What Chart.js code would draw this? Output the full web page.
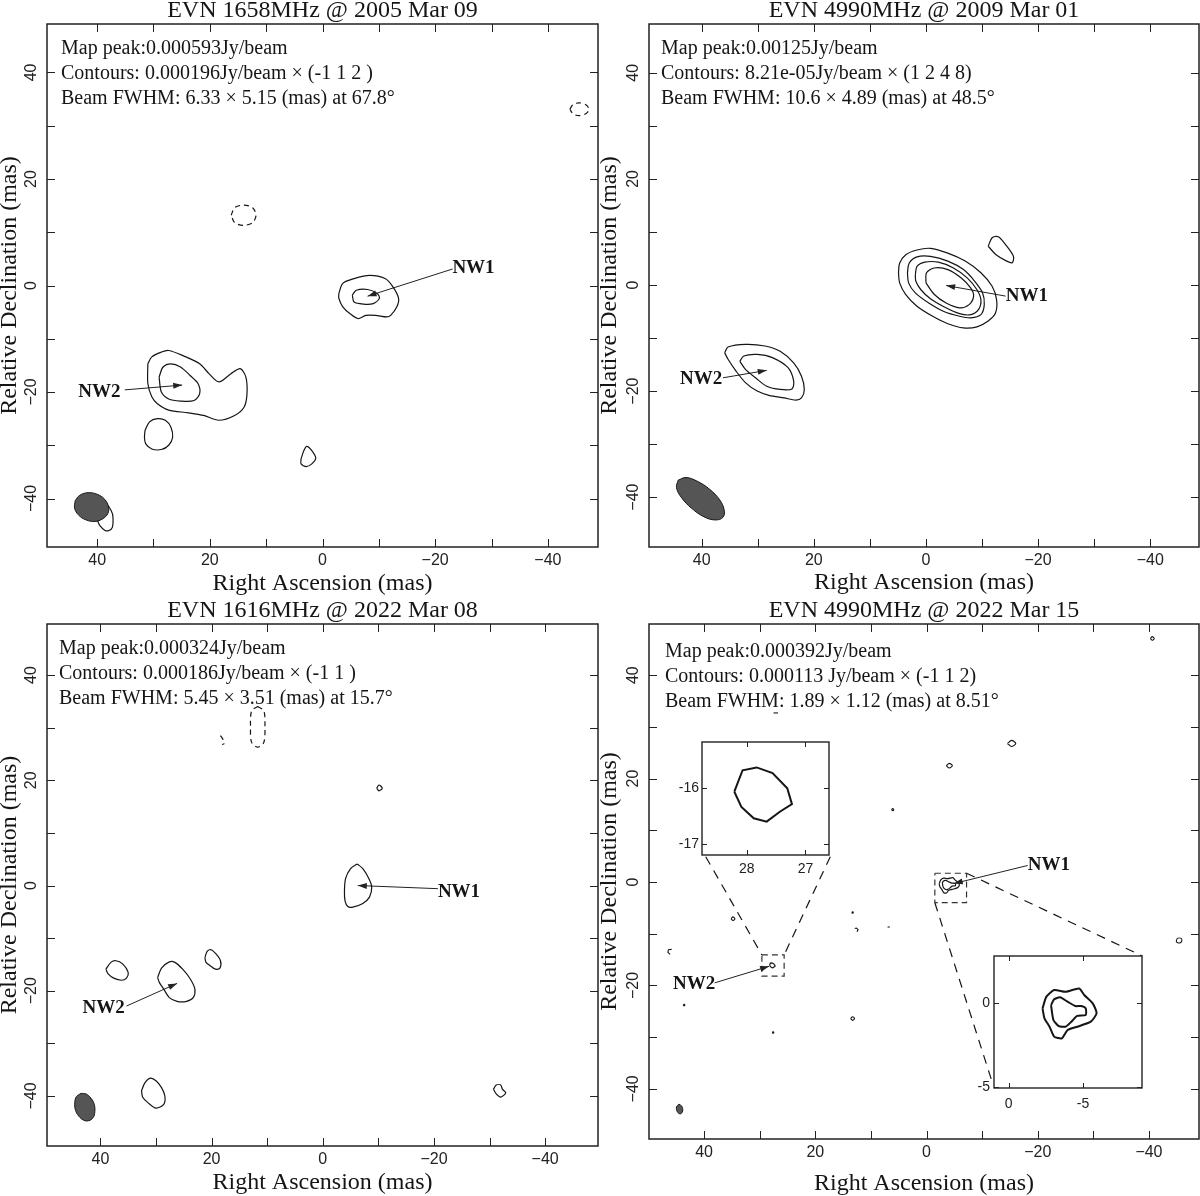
<!DOCTYPE html>
<html>
<head>
<meta charset="utf-8">
<script src="https://cdn.jsdelivr.net/npm/chart.js@4.4.1/dist/chart.umd.min.js"></script>
<style>
  html, body { margin: 0; padding: 0; background: #fff; }
  #wrap { position: relative; width: 1200px; height: 1196px; overflow: hidden; }
  canvas { position: absolute; }
</style>
</head>
<body>
<div id="wrap">
  <canvas id="p1" width="600" height="598" style="left:0;top:0"></canvas>
  <canvas id="p2" width="600" height="598" style="left:600px;top:0"></canvas>
  <canvas id="p3" width="600" height="598" style="left:0;top:598px"></canvas>
  <canvas id="p4" width="600" height="598" style="left:600px;top:598px"></canvas>
  <canvas id="in1" width="170" height="145" style="left:670px;top:735px"></canvas>
  <canvas id="in2" width="190" height="170" style="left:960px;top:948px"></canvas>
</div>
<script>
// ---- axis ticks / labels (mas) ----
const mainTicks = [-40, -30, -20, -10, 0, 10, 20, 30, 40];
const mainLabels = [-40, -20, 0, 20, 40];
const in1XTicks = [27, 28];
const in1YTicks = [-17, -16];
const in2Ticks = [-5, 0];

const p1XRange = [-48.9, 48.9], p1YRange = [-49.1, 49.1];
const p2XRange = [-48.7, 49.4], p2YRange = [-49.4, 49.2];
const p3XRange = [-49.5, 49.6], p3YRange = [-49.5, 49.7];
const p4XRange = [-49.0, 49.9], p4YRange = [-49.7, 49.9];
const in1XRange = [26.6, 28.76], in1YRange = [-17.19, -15.19];
const in2XRange = [-8.96, 0.98], in2YRange = [-5.08, 2.78];

const titles = ['EVN 1658MHz @ 2005 Mar 09', 'EVN 4990MHz @ 2009 Mar 01',
                'EVN 1616MHz @ 2022 Mar 08', 'EVN 4990MHz @ 2022 Mar 15'];
const notes1 = ['Map peak:0.000593Jy/beam', 'Contours: 0.000196Jy/beam \u00d7 (-1 1 2 )', 'Beam FWHM: 6.33 \u00d7 5.15 (mas) at 67.8\u00b0'];
const notes2 = ['Map peak:0.00125Jy/beam', 'Contours: 8.21e-05Jy/beam \u00d7 (1 2 4 8)', 'Beam FWHM: 10.6 \u00d7 4.89 (mas) at 48.5\u00b0'];
const notes3 = ['Map peak:0.000324Jy/beam', 'Contours: 0.000186Jy/beam \u00d7 (-1 1 )', 'Beam FWHM: 5.45 \u00d7 3.51 (mas) at 15.7\u00b0'];
const notes4 = ['Map peak:0.000392Jy/beam', 'Contours: 0.000113 Jy/beam \u00d7 (-1 1 2)', 'Beam FWHM: 1.89 \u00d7 1.12 (mas) at 8.51\u00b0'];

// ---- panel 1: 1658 MHz 2005 ----
const p1Nw1Outer = [[-2.9,-1.5],[-3.6,0.4],[-5.6,1.3],[-8.4,1.9],[-11.1,1.3],[-12.5,-0.25],[-13.5,-2.4],[-13.2,-4.0],[-12.1,-5.6],[-11.4,-5.9],[-9.4,-5.6],[-7.7,-5.6],[-6.3,-6.2],[-4.9,-5.3],[-3.6,-4.0],[-2.9,-2.4]];
const p1Nw1Inner = [[-5.3,-1.8],[-6.0,-0.9],[-8.0,-0.75],[-9.7,-1.5],[-10.1,-2.4],[-9.0,-3.4],[-7.3,-3.5],[-5.6,-3.1]];
const p1Nw2Outer = [[31.0,-14.7],[30.3,-13.4],[28.6,-12.5],[27.3,-12.2],[24.5,-13.3],[21.8,-14.7],[20.1,-16.6],[18.4,-18.1],[16.3,-16.6],[14.6,-15.6],[13.6,-17.2],[13.4,-20.3],[13.9,-22.8],[15.6,-24.4],[18.4,-25.3],[21.1,-24.4],[23.8,-23.9],[27.3,-23.4],[29.3,-22.2],[30.3,-20.9],[31.0,-18.4]];
const p1Nw2Inner = [[29.0,-17.2],[28.3,-15.3],[26.9,-14.7],[25.2,-15.3],[23.5,-16.9],[22.1,-18.4],[21.8,-20.3],[22.8,-21.6],[25.2,-21.7],[27.3,-21.3],[28.6,-20.0]];
const p1BlobA = [[31.5,-27.2],[30.7,-25.6],[29.3,-25.0],[27.9,-25.3],[26.9,-26.6],[26.6,-28.5],[27.3,-30.0],[28.6,-30.8],[30.3,-30.7],[31.4,-29.7],[31.6,-28.5]];
const p1BlobB = [[3.8,-32.5],[3.3,-31.0],[2.8,-30.2],[1.9,-31.0],[1.2,-32.4],[1.9,-33.5],[2.9,-34.0],[3.8,-33.5]];
const p1BlobC = [[40.0,-44.0],[40.6,-42.0],[39.3,-40.6],[38.4,-40.9],[37.5,-42.3],[37.2,-43.4],[37.3,-45.4],[37.9,-46.0],[38.6,-46.0],[39.5,-45.1]];
const p1Neg1 = [[16.2,13.2],[15.6,14.6],[14.0,15.1],[12.4,14.6],[11.8,13.2],[12.4,11.8],[14.0,11.3],[15.6,11.8]];
const p1Neg2 = [[-43.9,33.1],[-44.5,34.0],[-45.6,34.3],[-46.8,33.9],[-47.3,33.1],[-46.8,32.3],[-45.6,31.9],[-44.5,32.2]];
const p1Beam = [[43.9,-40.4],[43.1,-39.4],[41.6,-38.9],[40.0,-39.2],[38.7,-40.1],[38.0,-41.5],[38.1,-42.8],[39.0,-43.8],[40.4,-44.3],[42.0,-44.0],[43.3,-43.1],[44.0,-41.8]];
const p1ArrowNw1 = [[-23.1,3.1],[-8.0,-2.0]];
const p1ArrowNw2 = [[35.1,-19.6],[24.9,-18.7]];

// ---- panel 2: 4990 MHz 2009 ----
const p2Nw1C1 = [[4.9,2.3],[4.7,4.1],[3.6,5.7],[1.6,6.6],[-0.8,6.9],[-3.9,6.0],[-7.0,4.5],[-9.8,2.3],[-11.8,-0.25],[-12.6,-2.8],[-12.4,-5.3],[-11.1,-6.8],[-9.1,-7.9],[-6.7,-8.1],[-3.9,-7.3],[-1.2,-5.9],[1.6,-4.0],[3.6,-1.8],[4.7,0.4]];
const p2Nw1C2 = [[3.3,2.3],[3.0,4.1],[1.6,5.3],[-0.8,5.4],[-3.9,4.5],[-6.7,2.9],[-8.7,0.7],[-10.1,-1.5],[-10.4,-3.7],[-9.8,-5.6],[-8.0,-6.2],[-6.0,-5.9],[-3.2,-5.0],[-0.5,-3.4],[1.9,-1.5],[3.1,0.4]];
const p2Nw1C3 = [[1.9,1.9],[1.6,3.5],[0.2,4.3],[-2.2,4.3],[-4.9,3.2],[-7.4,1.3],[-9.1,-0.9],[-9.8,-2.8],[-9.4,-4.6],[-8.0,-5.6],[-6.0,-5.4],[-3.2,-4.1],[-0.8,-2.6],[0.9,-0.9],[1.8,0.7]];
const p2Nw1C4 = [[0.0,0.4],[-0.1,2.3],[-1.5,3.2],[-3.9,2.9],[-6.3,1.3],[-8.0,-0.6],[-8.5,-2.1],[-7.7,-3.7],[-6.0,-4.3],[-3.6,-3.4],[-1.5,-1.8]];
const p2Knot = [[-11.1,7.3],[-11.8,8.9],[-12.9,9.1],[-14.2,7.6],[-15.6,5.4],[-15.4,4.2],[-14.4,4.5],[-12.5,5.7]];
const p2Nw2Outer = [[35.9,-12.8],[35.3,-11.7],[32.2,-11.2],[28.7,-11.5],[26.0,-12.5],[23.6,-14.7],[22.2,-17.2],[21.7,-19.7],[22.2,-21.3],[23.2,-21.7],[25.3,-21.3],[28.0,-20.8],[30.1,-20.0],[32.2,-18.4],[33.9,-16.2],[35.3,-14.0]];
const p2Nw2Inner = [[33.2,-14.4],[32.5,-13.4],[30.1,-13.1],[27.4,-13.7],[24.6,-15.6],[23.6,-18.1],[23.9,-19.6],[26.0,-19.7],[28.4,-19.1],[30.4,-17.5],[32.2,-15.9]];
const p2Beam = [[44.2,-36.8],[42.8,-36.3],[40.8,-37.0],[38.6,-38.5],[36.8,-40.5],[36.0,-42.4],[36.2,-43.8],[37.6,-44.3],[39.6,-43.7],[41.8,-42.1],[43.6,-40.1],[44.5,-38.2]];
const p2ArrowNw1 = [[-14.2,-2.1],[-3.6,-0.1]];
const p2ArrowNw2 = [[36.2,-17.5],[28.4,-16.1]];

// ---- panel 3: 1616 MHz 2022 ----
const p3Nw1 = [[-6.2,4.1],[-7.2,3.2],[-8.3,1.3],[-8.8,-0.3],[-8.4,-2.2],[-7.2,-3.4],[-5.4,-4.1],[-4.5,-4.0],[-4.0,-2.9],[-3.9,-1.0],[-4.1,1.3],[-5.0,3.2]];
const p3Nw2 = [[29.7,-17.5],[29.0,-15.7],[27.6,-14.5],[26.6,-14.6],[25.2,-15.9],[23.8,-17.8],[23.0,-19.7],[23.3,-21.3],[24.5,-22.0],[26.2,-22.0],[27.6,-21.3],[28.6,-19.7],[29.4,-18.4]];
const p3BlobA = [[39.0,-15.9],[38.1,-14.6],[37.2,-14.3],[36.0,-14.9],[35.0,-16.5],[35.3,-17.6],[36.2,-18.0],[37.6,-17.6],[38.6,-16.8]];
const p3BlobB = [[21.2,-13.7],[20.8,-12.5],[20.1,-12.2],[19.2,-13.0],[18.4,-14.3],[18.5,-15.7],[19.3,-15.9],[20.3,-15.2],[21.0,-14.6]];
const p3BlobC = [[32.6,-39.0],[32.0,-37.5],[31.0,-36.6],[30.0,-37.1],[29.0,-38.4],[28.4,-40.0],[28.6,-41.6],[30.0,-42.3],[31.4,-41.3],[32.4,-40.2]];
const p3BlobD = [[-30.7,-38.7],[-31.2,-37.9],[-32.0,-37.9],[-32.3,-38.7],[-32.9,-39.4],[-32.0,-40.2],[-31.2,-39.6]];
const p3BlobE = [[-9.7,18.5],[-10.1,19.1],[-10.7,18.5],[-10.1,18.0]];
const p3Neg1 = [[11.7,34.0],[10.6,33.2],[10.4,30.2],[10.6,27.2],[11.7,26.3],[12.8,27.2],[13.0,30.2],[12.8,33.2]];
const p3Neg2 = [[18.4,28.5],[17.9,27.7],[17.7,27.0],[18.1,26.8]];
const p3Beam = [[43.5,-39.5],[42.6,-39.6],[41.7,-40.4],[41.1,-41.6],[41.0,-43.0],[41.3,-44.1],[42.1,-44.7],[43.0,-44.6],[43.9,-43.8],[44.5,-42.6],[44.6,-41.2],[44.3,-40.1]];
const p3ArrowNw1 = [[-20.7,-0.6],[-6.3,0.0]];
const p3ArrowNw2 = [[35.3,-22.9],[26.2,-18.6]];

// ---- panel 4: 4990 MHz 2022 (insets reuse the same contours) ----
const p4Nw2 = [[28.21,-16.07],[28.07,-15.69],[27.83,-15.64],[27.56,-15.74],[27.31,-16.01],[27.23,-16.29],[27.43,-16.42],[27.66,-16.60],[27.88,-16.54],[28.09,-16.34]];
const p4Nw1Outer = [[-2.28,-0.34],[-2.54,0.36],[-3.06,0.75],[-3.83,0.65],[-4.74,0.85],[-5.08,0.46],[-5.65,-0.04],[-5.91,-0.63],[-5.52,-1.13],[-4.61,-1.43],[-3.96,-1.63],[-3.58,-2.12],[-3.06,-2.02],[-2.75,-1.43],[-2.41,-0.93]];
const p4Nw1Inner = [[-2.85,-0.14],[-3.06,0.20],[-3.45,0.32],[-3.96,0.06],[-4.48,-0.20],[-4.87,-0.20],[-5.18,-0.34],[-5.18,-0.73],[-4.61,-0.79],[-4.22,-1.13],[-3.83,-1.43],[-3.37,-1.39],[-3.01,-1.03]];
const p4Spots = [
  [[-40.25,47.1],[-40.6,47.45],[-40.95,47.1],[-40.6,46.75]],
  [[-14.55,26.8],[-15.3,27.4],[-16.05,26.8],[-15.3,26.2]],
  [[-3.55,22.5],[-4.1,22.95],[-4.65,22.5],[-4.1,22.05]],
  [[6.3,14.0],[6.1,14.2],[5.9,14.0],[6.1,13.8]],
  [[35.15,-7.1],[34.8,-6.75],[34.45,-7.1],[34.8,-7.45]],
  [[13.45,-5.9],[13.3,-5.75],[13.15,-5.9],[13.3,-6.05]],
  [[13.65,-26.4],[13.3,-26.05],[12.95,-26.4],[13.3,-26.75]],
  [[27.75,-29.1],[27.6,-28.95],[27.45,-29.1],[27.6,-29.25]],
  [[43.75,-23.8],[43.6,-23.65],[43.45,-23.8],[43.6,-23.95]],
  [[-44.9,-11.6],[-45.1,-10.9],[-45.8,-10.9],[-45.9,-11.4],[-45.5,-11.8]]
];
const p4Bits = [
  [[27.5,32.7],[26.7,32.7]],
  [[12.9,-9.0],[12.6,-8.9],[12.3,-9.2],[12.5,-9.6]],
  [[7.0,-8.7],[6.6,-8.7]],
  [[45.8,-13.0],[46.4,-13.1],[46.5,-13.6],[46.1,-14.0]]
];
const p4Beam = [[44.54,-42.96],[44.0,-43.36],[43.85,-44.3],[44.26,-44.84],[44.81,-44.44],[44.95,-43.5]];
const p4BoxNw2 = [[29.6,-14.1],[25.6,-14.1],[25.6,-18.2],[29.6,-18.2],[29.6,-14.1]];
const p4BoxNw1 = [[-1.5,1.7],[-7.2,1.7],[-7.2,-4.0],[-1.5,-4.0],[-1.5,1.7]];
const p4Links = [
  [[39.7,4.9],[29.6,-14.1]],
  [[17.3,4.9],[25.6,-14.1]],
  [[-7.2,1.7],[-38.8,-14.3]],
  [[-1.5,-4.0],[-11.9,-39.0]]
];
const p4ArrowNw1 = [[-18.2,3.2],[-4.9,-0.3]];
const p4ArrowNw2 = [[38.1,-19.5],[28.3,-16.3]];

// label anchors (data coords, text centred)
const p1Marks = [['NW1', -26.8, 3.2], ['NW2', 39.6, -20.0]];
const p2Marks = [['NW1', -18.0, -2.1], ['NW2', 40.1, -17.8]];
const p3Marks = [['NW1', -24.5, -1.3], ['NW2', 39.4, -23.2]];
const p4Marks = [['NW1', -22.0, 3.3], ['NW2', 41.8, -19.7]];

const SERIF = '"Liberation Serif", "Times New Roman", serif';
const SANS = '"Liberation Sans", Arial, sans-serif';
const INK = '#151515';

function pts(arr) { return arr.map(([x, y]) => ({ x, y })); }
function loop(arr) { return pts(arr.concat([arr[0]])); }

function contour(arr, extra) {
    return Object.assign({
        data: loop(arr), showLine: true, borderColor: INK, borderWidth: 1.2,
        pointRadius: 0, tension: 0.3, fill: false
    }, extra || {});
}
function dashed(arr, closed, extra) {
    return Object.assign({
        data: closed ? loop(arr) : pts(arr), showLine: true, borderColor: INK, borderWidth: 1.2,
        borderDash: [5, 4], pointRadius: 0, tension: 0.3, fill: false
    }, extra || {});
}
function beam(arr) {
    return {
        data: loop(arr), showLine: true, borderColor: INK, borderWidth: 1,
        backgroundColor: '#555', fill: 'shape', pointRadius: 0, tension: 0.4, order: -1
    };
}
function arrow(arr) {
    return { data: pts(arr), showLine: true, borderColor: '#222', borderWidth: 1, pointRadius: 0, arrow: true };
}

// frame settings per canvas (pixels only)
const frames = {};

const framePlugin = {
    id: 'frame',
    beforeDraw(chart) {
        const o = frames[chart.canvas.id];
        if (!o || !o.fillArea) return;
        const a = chart.chartArea, ctx = chart.ctx;
        ctx.save();
        ctx.fillStyle = '#fff';
        ctx.fillRect(a.left, a.top, a.right - a.left, a.bottom - a.top);
        ctx.restore();
    },
    afterDatasetsDraw(chart) {
        const ctx = chart.ctx;
        chart.data.datasets.forEach((ds, i) => {
            if (!ds.arrow) return;
            const els = chart.getDatasetMeta(i).data;
            const p0 = els[0], p1 = els[els.length - 1];
            const ang = Math.atan2(p1.y - p0.y, p1.x - p0.x);
            ctx.save();
            ctx.translate(p1.x, p1.y);
            ctx.rotate(ang);
            ctx.fillStyle = '#222';
            ctx.beginPath();
            ctx.moveTo(0, 0);
            ctx.lineTo(-9, -3);
            ctx.lineTo(-9, 3);
            ctx.closePath();
            ctx.fill();
            ctx.restore();
        });
    },
    afterDraw(chart) {
        const o = frames[chart.canvas.id];
        if (!o) return;
        const { ctx, chartArea: a } = chart;
        const x = chart.scales.x, y = chart.scales.y;
        const fmt = v => (v < 0 ? o.minus + Math.abs(v) : String(v));
        ctx.save();
        ctx.strokeStyle = '#222';
        ctx.lineWidth = o.border;
        ctx.strokeRect(a.left, a.top, a.right - a.left, a.bottom - a.top);
        ctx.lineWidth = 1;
        ctx.beginPath();
        o.xTicks.forEach(v => {
            const px = Math.round(x.getPixelForValue(v)) + 0.5;
            ctx.moveTo(px, a.bottom); ctx.lineTo(px, a.bottom - o.tickLen);
            ctx.moveTo(px, a.top); ctx.lineTo(px, a.top + o.tickLen);
        });
        o.yTicks.forEach(v => {
            const py = Math.round(y.getPixelForValue(v)) + 0.5;
            ctx.moveTo(a.left, py); ctx.lineTo(a.left + o.tickLen, py);
            ctx.moveTo(a.right, py); ctx.lineTo(a.right - o.tickLen, py);
        });
        ctx.stroke();

        ctx.fillStyle = '#222';
        ctx.font = o.tickFont;
        ctx.textAlign = 'center';
        ctx.textBaseline = 'middle';
        o.xLabels.forEach(v => ctx.fillText(fmt(v), x.getPixelForValue(v), a.bottom + o.xLabelGap));
        o.yLabels.forEach(v => {
            const py = y.getPixelForValue(v);
            if (o.rotateY) {
                ctx.save();
                ctx.translate(a.left - o.yLabelGap, py);
                ctx.rotate(-Math.PI / 2);
                ctx.fillText(fmt(v), 0, 0);
                ctx.restore();
            } else {
                ctx.textAlign = 'right';
                ctx.fillText(fmt(v), a.left - o.yLabelGap, py);
                ctx.textAlign = 'center';
            }
        });

        if (o.title) {
            ctx.fillStyle = INK;
            ctx.font = '24px ' + SERIF;
            ctx.textBaseline = 'alphabetic';
            ctx.fillText(o.title, (a.left + a.right) / 2, o.titleY);
            ctx.textBaseline = 'middle';
            ctx.fillText('Right Ascension (mas)', (a.left + a.right) / 2, a.bottom + o.xTitleGap);
            ctx.save();
            ctx.translate(o.yTitleX, (a.top + a.bottom) / 2);
            ctx.rotate(-Math.PI / 2);
            ctx.fillText('Relative Declination (mas)', 0, 0);
            ctx.restore();
        }
        if (o.notes) {
            ctx.font = '20px ' + SERIF;
            ctx.textAlign = 'left';
            ctx.textBaseline = 'alphabetic';
            o.notes.forEach((t, i) => ctx.fillText(t, a.left + o.noteX, a.top + o.noteY[i]));
        }
        if (o.marks) {
            ctx.font = 'bold 19px ' + SERIF;
            ctx.textAlign = 'center';
            ctx.textBaseline = 'middle';
            o.marks.forEach(([t, mx, my]) => ctx.fillText(t, x.getPixelForValue(mx), y.getPixelForValue(my)));
        }
        ctx.restore();
    }
};
Chart.register(framePlugin);

function mainFrame(title, titleY, notes, noteX, noteY, xTitleGap, marks) {
    return {
        border: 1.5, tickLen: 8, xTicks: mainTicks, yTicks: mainTicks,
        xLabels: mainLabels, yLabels: mainLabels, rotateY: true, minus: '\u2212',
        tickFont: '16px ' + SANS, xLabelGap: 14, yLabelGap: 15,
        title, titleY, xTitleGap, yTitleX: 10, notes, noteX, noteY, marks
    };
}

function makeChart(id, pad, xRange, yRange, datasets) {
    return new Chart(document.getElementById(id), {
        type: 'scatter',
        data: { datasets },
        options: {
            responsive: false,
            animation: false,
            devicePixelRatio: 1,
            layout: { padding: pad },
            scales: {
                x: { type: 'linear', display: false, reverse: true, min: xRange[0], max: xRange[1] },
                y: { type: 'linear', display: false, min: yRange[0], max: yRange[1] }
            },
            plugins: { legend: { display: false }, tooltip: { enabled: false } }
        }
    });
}

frames.p1 = mainFrame(titles[0], 17, notes1, 14, [30, 55, 80], 37, p1Marks);
makeChart('p1', { left: 47, right: 2, top: 24, bottom: 51 }, p1XRange, p1YRange, [
    beam(p1Beam),
    contour(p1Nw1Outer), contour(p1Nw1Inner), contour(p1Nw2Outer), contour(p1Nw2Inner),
    contour(p1BlobA), contour(p1BlobB), contour(p1BlobC),
    dashed(p1Neg1, true), dashed(p1Neg2, true),
    arrow(p1ArrowNw1), arrow(p1ArrowNw2)
]);

frames.p2 = mainFrame(titles[1], 17, notes2, 12, [30, 55, 80], 36, p2Marks);
makeChart('p2', { left: 49, right: 1, top: 24, bottom: 51 }, p2XRange, p2YRange, [
    beam(p2Beam),
    contour(p2Nw1C1), contour(p2Nw1C2), contour(p2Nw1C3), contour(p2Nw1C4),
    contour(p2Knot), contour(p2Nw2Outer), contour(p2Nw2Inner),
    arrow(p2ArrowNw1), arrow(p2ArrowNw2)
]);

frames.p3 = mainFrame(titles[2], 19, notes3, 12, [30, 55, 80], 37, p3Marks);
makeChart('p3', { left: 47, right: 2, top: 26, bottom: 50 }, p3XRange, p3YRange, [
    beam(p3Beam),
    contour(p3Nw1), contour(p3Nw2), contour(p3BlobA), contour(p3BlobB),
    contour(p3BlobC), contour(p3BlobD), contour(p3BlobE),
    dashed(p3Neg1, true), dashed(p3Neg2, false),
    arrow(p3ArrowNw1), arrow(p3ArrowNw2)
]);

frames.p4 = mainFrame(titles[3], 19, notes4, 16, [33, 58, 83], 45, p4Marks);
makeChart('p4', { left: 49, right: 1, top: 26, bottom: 57 }, p4XRange, p4YRange, [
    beam(p4Beam),
    contour(p4Nw2, { tension: 0 }), contour(p4Nw1Outer), contour(p4Nw1Inner),
    ...p4Spots.map(s => contour(s, { borderWidth: 1.1 })),
    ...p4Bits.map(s => ({ data: pts(s), showLine: true, borderColor: INK, borderWidth: 1.1, pointRadius: 0 })),
    dashed(p4BoxNw2, false, { tension: 0, borderDash: [6, 4], borderColor: '#333' }),
    dashed(p4BoxNw1, false, { tension: 0, borderDash: [6, 4], borderColor: '#333' }),
    ...p4Links.map(s => dashed(s, false, { tension: 0, borderDash: [9, 7] })),
    arrow(p4ArrowNw1), arrow(p4ArrowNw2)
]);

// insets: same contours, zoomed scales
frames.in1 = {
    border: 1.4, tickLen: 5, xTicks: in1XTicks, yTicks: in1YTicks, xLabels: in1XTicks, yLabels: in1YTicks,
    rotateY: false, minus: '-', tickFont: '14px ' + SANS, xLabelGap: 14, yLabelGap: 3, fillArea: true
};
makeChart('in1', { left: 32, right: 11, top: 7, bottom: 25 }, in1XRange, in1YRange, [
    contour(p4Nw2, { tension: 0, borderWidth: 2 })
]);

frames.in2 = {
    border: 1.4, tickLen: 5, xTicks: in2Ticks, yTicks: in2Ticks, xLabels: in2Ticks, yLabels: in2Ticks,
    rotateY: false, minus: '-', tickFont: '14px ' + SANS, xLabelGap: 16, yLabelGap: 4, fillArea: true
};
makeChart('in2', { left: 34, right: 8, top: 8, bottom: 30 }, in2XRange, in2YRange, [
    contour(p4Nw1Outer, { borderWidth: 2, tension: 0.2 }), contour(p4Nw1Inner, { borderWidth: 2, tension: 0.2 })
]);
</script>
</body>
</html>
